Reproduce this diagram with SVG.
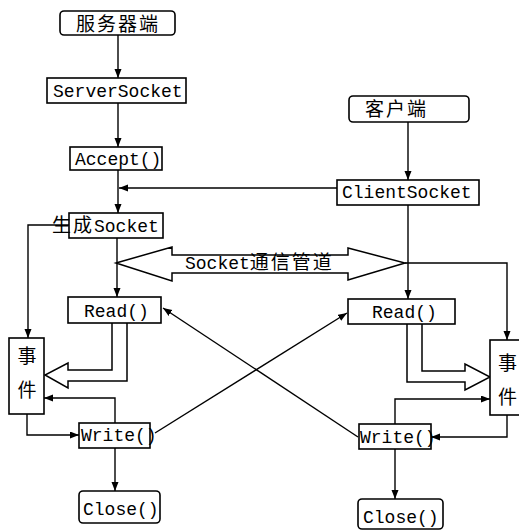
<svg xmlns="http://www.w3.org/2000/svg" width="519" height="530" viewBox="0 0 519 530">
<style>
.box{fill:#fff;stroke:#000;stroke-width:1.6}
.ln{fill:none;stroke:#000;stroke-width:1.4}
.hol{fill:#fff;stroke:#000;stroke-width:1.5}
.m{font-family:"Liberation Mono","DejaVu Sans Mono",monospace;font-size:18px;fill:#000}
.c{font-family:"Noto Sans CJK SC","Noto Sans",sans-serif;font-size:19px;fill:#000}
</style>
<defs>
<marker id="ah" markerUnits="userSpaceOnUse" markerWidth="10" markerHeight="8" refX="9" refY="3.5" orient="auto">
<path d="M0,0 L9,3.5 L0,7 z" fill="#000"/>
</marker>
</defs>
<rect width="519" height="530" fill="#fff"/>
<g id="connectors">
<path class="ln" marker-end="url(#ah)" d="M118,35 V78"/>
<path class="ln" marker-end="url(#ah)" d="M118,103 V147"/>
<path class="ln" marker-end="url(#ah)" d="M118,170 V213"/>
<path class="ln" marker-end="url(#ah)" d="M337,188 H119"/>
<path class="ln" marker-end="url(#ah)" d="M408,122 V180"/>
<path class="ln" marker-end="url(#ah)" d="M408,205 V299"/>
<path class="ln" marker-end="url(#ah)" d="M117,238 V297"/>
<path class="ln" marker-end="url(#ah)" d="M69,225 H28 V338"/>
<path class="ln" marker-end="url(#ah)" d="M405,263 H507 V340"/>
<path class="ln" marker-end="url(#ah)" d="M27,414 V435 H79"/>
<path class="ln" marker-end="url(#ah)" d="M115,423 V398 H44"/>
<path class="ln" marker-end="url(#ah)" d="M115,448 V491"/>
<path class="ln" marker-end="url(#ah)" d="M507,415 V437 H431"/>
<path class="ln" marker-end="url(#ah)" d="M395,424 V399 H490"/>
<path class="ln" marker-end="url(#ah)" d="M395,449 V499"/>
<path class="ln" marker-end="url(#ah)" d="M358,437 L163,308"/>
<path class="ln" marker-end="url(#ah)" d="M155,433 L347,313"/>
<path class="hol" d="M112,323 V370 H68 V363 L45,375 L68,388 V381 H127 V323"/>
<path class="hol" d="M422,324 V371 H465 V364 L490,377 L465,390 V382 H407 V324"/>
</g>
<g id="pipe">
<polygon class="hol" points="116,263 172,247 172,255 348,255 348,248 405,263 348,280 348,273 172,273 172,281"/>
<text x="185" y="269" class="m">Socket<tspan class="c" font-size="19" letter-spacing="2">通信管道</tspan></text>
</g>
<g id="server">
<rect class="box" x="60" y="11" width="115" height="24" rx="4"/>
<text x="76" y="31" class="c" font-size="20" letter-spacing="2">服务器端</text>
</g>
<g id="serversocket">
<rect class="box" x="47" y="78" width="139" height="25"/>
<text x="53" y="97" class="m">ServerSocket</text>
</g>
<g id="accept">
<rect class="box" x="70" y="147" width="92" height="23"/>
<text x="75" y="165" class="m">Accept()</text>
</g>
<g id="gensocket">
<rect class="box" x="69" y="213" width="94" height="25"/>
<text x="52" y="232" class="m"><tspan class="c" font-size="20" letter-spacing="2">生成</tspan>Socket</text>
</g>
<g id="readL">
<rect class="box" x="68" y="297" width="93" height="26"/>
<text x="84" y="317" class="m" font-size="17.5">Read()</text>
</g>
<g id="eventL">
<rect class="box" x="9" y="338" width="35" height="76"/>
<text x="27" y="363" class="c" text-anchor="middle" font-size="19">事</text>
<text x="27" y="397" class="c" text-anchor="middle" font-size="19">件</text>
</g>
<g id="writeL">
<rect class="box" x="79" y="423" width="71" height="25"/>
<text x="81" y="441" class="m" font-size="17.5">Write()</text>
</g>
<g id="closeL">
<rect class="box" x="79" y="491" width="81" height="32" rx="4"/>
<text x="83" y="515" class="m">Close()</text>
</g>
<g id="client">
<rect class="box" x="349" y="96" width="120" height="26" rx="4"/>
<text x="365" y="116" class="c" font-size="20" letter-spacing="2">客户端</text>
</g>
<g id="clientsocket">
<rect class="box" x="337" y="180" width="142" height="25"/>
<text x="342" y="198" class="m">ClientSocket</text>
</g>
<g id="readR">
<rect class="box" x="348" y="299" width="107" height="25"/>
<text x="372" y="318" class="m" font-size="17.5">Read()</text>
</g>
<g id="eventR">
<rect class="box" x="490" y="340" width="40" height="75"/>
<text x="498" y="370" class="c" font-size="19">事</text>
<text x="498" y="404" class="c" font-size="19">件</text>
</g>
<g id="writeR">
<rect class="box" x="359" y="424" width="72" height="25"/>
<text x="360" y="443" class="m" font-size="17.5">Write()</text>
</g>
<g id="closeR">
<rect class="box" x="358" y="499" width="85" height="30" rx="4"/>
<text x="363" y="523" class="m">Close()</text>
</g>
</svg>
